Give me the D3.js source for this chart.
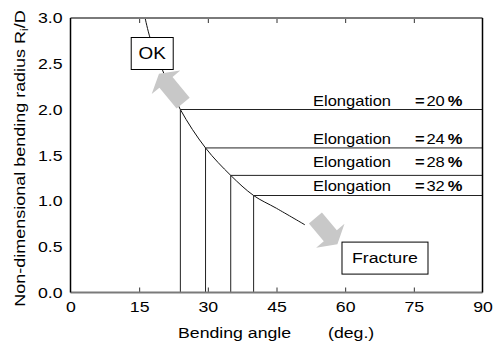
<!DOCTYPE html>
<html>
<head>
<meta charset="utf-8">
<script src="https://cdn.jsdelivr.net/npm/d3@7"></script>
<style>
  html, body { margin: 0; padding: 0; background: #fff; }
  svg { display: block; }
  text { font-family: "Liberation Sans", Arial, Helvetica, sans-serif; fill: #000; }
</style>
</head>
<body>
<svg id="chart" width="496" height="344"></svg>
<script>
// Bending angle (deg.) on x, non-dimensional bending radius Ri/D on y
const angleTicks = [0, 15, 30, 45, 60, 75, 90];
const ratioTicks = [0, 0.5, 1.0, 1.5, 2.0, 2.5, 3.0];

// Limit curve between "OK" and "Fracture"
const curveAngle = [16.3, 17.4, 20.1, 24.0, 29.5, 35.0, 40.0, 45.0, 51.2];
const curveRatio = [3.0, 2.78, 2.43, 2.0, 1.58, 1.28, 1.06, 0.92, 0.74];

// Elongation levels and the point where each meets the curve
const elongation = [20, 24, 28, 32];
const limitRatio = [2.0, 1.58, 1.28, 1.06];
const limitAngle = [24.0, 29.5, 35.0, 40.0];

const W = 496, H = 344;
const m = { left: 70.5, top: 18, right: 13.5, bottom: 51.5 };
const x = d3.scaleLinear().domain([0, 90]).range([m.left, W - m.right]);
const y = d3.scaleLinear().domain([0, 3]).range([H - m.bottom, m.top]);
const SX = 1.18; // horizontal stretch of the lettering

const svg = d3.select("#chart");

// Curve
const curvePts = curveAngle.map((a, i) => [a, curveRatio[i]]);
svg.append("path")
  .datum(curvePts)
  .attr("fill", "none")
  .attr("stroke", "#111")
  .attr("stroke-width", 1)
  .attr("d", d3.line().x(d => x(d[0])).y(d => y(d[1])).curve(d3.curveCatmullRom));

// Elongation limit lines: vertical from the axis, horizontal to the right edge
const lim = elongation.map((e, i) => ({ e, r: limitRatio[i], a: limitAngle[i] }));
svg.append("g").selectAll("line.v").data(lim).join("line")
  .attr("x1", d => x(d.a)).attr("x2", d => x(d.a))
  .attr("y1", y(0)).attr("y2", d => y(d.r))
  .attr("stroke", "#222").attr("stroke-width", 1);
svg.append("g").selectAll("line.h").data(lim).join("line")
  .attr("x1", d => x(d.a)).attr("x2", x(90))
  .attr("y1", d => y(d.r)).attr("y2", d => y(d.r))
  .attr("stroke", "#222").attr("stroke-width", 1);

// Elongation labels
const labelLift = [4, 4, 8, 4.5];
const lab = svg.append("g").selectAll("g").data(lim).join("g")
  .attr("transform", (d, i) => `translate(0,${y(d.r) - labelLift[i]})`);
lab.append("text")
  .attr("transform", `translate(${x(90) - 169.5},0) scale(${SX},1)`)
  .attr("font-size", 14)
  .text("Elongation");
const eq = lab.append("text")
  .attr("transform", `translate(${x(90) - 67.5},0) scale(${SX},1)`)
  .attr("font-size", 14);
eq.append("tspan").attr("font-weight", "bold").text("=");
eq.append("tspan").attr("dx", 1.5).text(d => d.e);
eq.append("tspan").attr("dx", 2.5).attr("font-weight", "bold").text("%");

// Block arrows (tail -> tip in data units)
function blockArrow(tail, tip, shaftW, headW, headLen) {
  const [x0, y0] = [x(tail[0]), y(tail[1])];
  const [x1, y1] = [x(tip[0]), y(tip[1])];
  const len = Math.hypot(x1 - x0, y1 - y0);
  const ux = (x1 - x0) / len, uy = (y1 - y0) / len;
  const px = -uy, py = ux;
  const bx = x1 - ux * headLen, by = y1 - uy * headLen;
  const s = shaftW / 2, h = headW / 2;
  return [
    [x0 + px * s, y0 + py * s],
    [bx + px * s, by + py * s],
    [bx + px * h, by + py * h],
    [x1, y1],
    [bx - px * h, by - py * h],
    [bx - px * s, by - py * s],
    [x0 - px * s, y0 - py * s]
  ];
}
const arrows = [
  { tail: [24.6, 2.07], tip: [19.33, 2.39] },
  { tail: [53.5, 0.814], tip: [58.3, 0.528] }
];
svg.append("g").selectAll("polygon").data(arrows).join("polygon")
  .attr("points", d => blockArrow(d.tail, d.tip, 17, 37, 11).map(p => p.join(",")).join(" "))
  .attr("fill", "#c8c8c8");

// Region labels in boxes
const boxes = [
  { text: "OK", a: 17.85, r: 2.612, w: 42, h: 32, fs: 16 },
  { text: "Fracture", a: 68.7, r: 0.376, w: 86, h: 32, fs: 15 }
];
const bx = svg.append("g").selectAll("g").data(boxes).join("g")
  .attr("transform", d => `translate(${x(d.a)},${y(d.r)})`);
bx.append("rect")
  .attr("x", d => -d.w / 2).attr("y", d => -d.h / 2)
  .attr("width", d => d.w).attr("height", d => d.h)
  .attr("fill", "#fff").attr("stroke", "#000").attr("stroke-width", 1);
bx.append("text")
  .attr("transform", `scale(${SX},1)`)
  .attr("text-anchor", "middle").attr("dy", "0.36em")
  .attr("font-size", d => d.fs)
  .text(d => d.text);

// Axes
const xAxis = svg.append("g")
  .attr("transform", `translate(0,${y(0)})`)
  .call(d3.axisBottom(x).tickValues(angleTicks).tickSizeInner(-5).tickSizeOuter(0).tickPadding(9));
const xTop = svg.append("g")
  .attr("transform", `translate(0,${y(3)})`)
  .call(d3.axisTop(x).tickValues(angleTicks.slice(1, -1)).tickSizeInner(-5).tickSizeOuter(0).tickFormat(""));
[xAxis, xTop].forEach(g => {
  g.select(".domain").remove();
  g.selectAll(".tick line").attr("stroke", "#333");
});
xAxis.selectAll(".tick").filter(d => d === 0 || d === 90).select("line").remove();
xAxis.selectAll(".tick text")
  .attr("font-size", 15).attr("font-family", null)
  .attr("transform", `scale(${SX},1)`);

const yAxis = svg.append("g")
  .attr("transform", `translate(${x(0)},0)`)
  .call(d3.axisLeft(y).tickValues(ratioTicks).tickSize(0).tickPadding(8).tickFormat(d3.format(".1f")));
yAxis.select(".domain").remove();
yAxis.selectAll(".tick text")
  .attr("font-size", 15).attr("font-family", null)
  .attr("x", -8 / SX)
  .attr("transform", `scale(${SX},1)`);

// Frame: grey top and bottom, black sides
svg.append("line").attr("x1", x(0)).attr("x2", x(90)).attr("y1", y(3)).attr("y2", y(3))
  .attr("stroke", "#7a7a7a").attr("stroke-width", 2);
svg.append("line").attr("x1", x(0)).attr("x2", x(90)).attr("y1", y(0)).attr("y2", y(0))
  .attr("stroke", "#7a7a7a").attr("stroke-width", 2);
svg.append("line").attr("x1", x(0)).attr("x2", x(0)).attr("y1", y(3)).attr("y2", y(0))
  .attr("stroke", "#000").attr("stroke-width", 1.5);
svg.append("line").attr("x1", x(90)).attr("x2", x(90)).attr("y1", y(3)).attr("y2", y(0))
  .attr("stroke", "#000").attr("stroke-width", 1.5);

// Axis titles
svg.append("text")
  .attr("transform", `translate(178,337.5) scale(${SX},1)`)
  .attr("font-size", 15)
  .text("Bending angle");
svg.append("text")
  .attr("transform", `translate(328,337.5) scale(${SX},1)`)
  .attr("font-size", 15)
  .text("(deg.)");

const yt = svg.append("text")
  .attr("transform", `translate(24.5,158.5) rotate(-90) scale(1.2,1)`)
  .attr("text-anchor", "middle")
  .attr("font-size", 15);
yt.append("tspan").text("Non-dimensional bending radius R");
yt.append("tspan").attr("font-size", 10).attr("dy", 3).text("i");
yt.append("tspan").attr("dy", -3).text("/D");
</script>
</body>
</html>
